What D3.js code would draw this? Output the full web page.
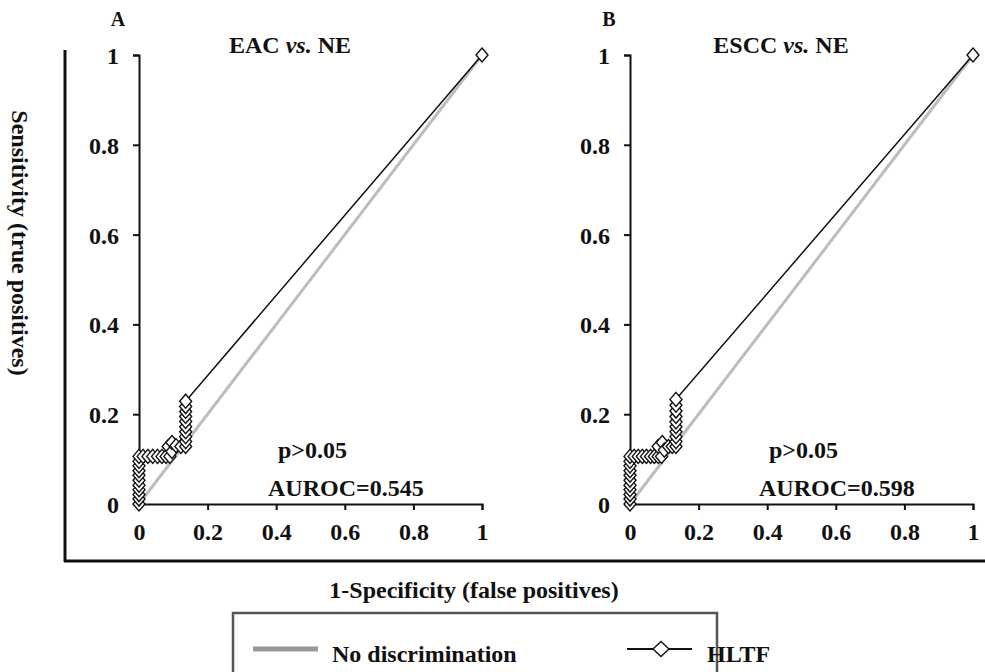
<!DOCTYPE html>
<html>
<head>
<meta charset="utf-8">
<script src="https://cdn.jsdelivr.net/npm/d3@7"></script>
<style>
  body { margin: 0; background: #fff; }
  svg { display: block; }
  text { font-family: "Liberation Serif", "Times New Roman", serif; font-weight: bold; fill: #111; }
</style>
</head>
<body>
<div id="chart"></div>
<script>
// Values
var tickValues = [0, 0.2, 0.4, 0.6, 0.8, 1];

var panelLetters = ["A", "B"];
var panelTitles = [["EAC ", "vs.", " NE"], ["ESCC ", "vs.", " NE"]];
var pValues = ["p>0.05", "p>0.05"];
var aurocLabels = ["AUROC=0.545", "AUROC=0.598"];

// HLTF ROC points, panel A (1-specificity, sensitivity)
var fprA = [0, 0, 0, 0, 0, 0, 0, 0, 0, 0, 0,
  0.012, 0.026, 0.040, 0.054, 0.067, 0.079, 0.090,
  0.085, 0.096, 0.096, 0.108, 0.122, 0.136,
  0.136, 0.136, 0.136, 0.136, 0.136, 0.136, 0.136, 0.136, 0.136,
  1];
var tprA = [0, 0.011, 0.021, 0.032, 0.042, 0.053, 0.064, 0.074, 0.085, 0.095, 0.106,
  0.106, 0.106, 0.106, 0.106, 0.106, 0.106, 0.106,
  0.128, 0.117, 0.137, 0.130, 0.128, 0.128,
  0.139, 0.150, 0.161, 0.172, 0.184, 0.195, 0.206, 0.217, 0.229,
  1];

// HLTF ROC points, panel B
var fprB = [0, 0, 0, 0, 0, 0, 0, 0, 0, 0, 0,
  0.012, 0.024, 0.036, 0.048, 0.060, 0.071, 0.082, 0.092,
  0.082, 0.094, 0.100, 0.112, 0.123, 0.134,
  0.134, 0.134, 0.134, 0.134, 0.134, 0.134, 0.134, 0.134, 0.134,
  1];
var tprB = [0, 0.011, 0.021, 0.032, 0.042, 0.053, 0.064, 0.074, 0.085, 0.095, 0.106,
  0.106, 0.106, 0.106, 0.106, 0.106, 0.106, 0.106, 0.106,
  0.128, 0.137, 0.120, 0.128, 0.128, 0.128,
  0.139, 0.150, 0.161, 0.172, 0.183, 0.195, 0.207, 0.220, 0.233,
  1];

// Diagonal reference line (no discrimination)
var chance = [0, 1];

var legendNames = ["No discrimination", "HLTF"];

var svgWidth = 985;
var svgHeight = 672;
var fontSize = "24px";

var svg = d3.select("#chart")
  .append("svg")
  .attr("width", svgWidth)
  .attr("height", svgHeight);

// outer frame (left and bottom)
svg.append("line")
  .attr("x1", 65).attr("x2", 65).attr("y1", 50).attr("y2", 562)
  .attr("stroke", "#111").attr("stroke-width", 3);
svg.append("line")
  .attr("x1", 64).attr("x2", 985).attr("y1", 561).attr("y2", 561)
  .attr("stroke", "#111").attr("stroke-width", 3);

var panels = [
  { left: 139, fpr: fprA, tpr: tprA },
  { left: 630, fpr: fprB, tpr: tprB }
];
var plotW = 343;
var plotTop = 55;
var plotBottom = 504;

function diamond(g, x, y, w, h) {
  g.append("path")
    .attr("d", `M${x},${y - h / 2}L${x + w / 2},${y}L${x},${y + h / 2}L${x - w / 2},${y}Z`)
    .attr("fill", "#fff")
    .attr("stroke", "#111")
    .attr("stroke-width", 1.4);
}

panels.forEach(function(p, i) {
  var xScale = d3.scaleLinear().domain([0, 1]).range([p.left, p.left + plotW]);
  var yScale = d3.scaleLinear().domain([0, 1]).range([plotBottom, plotTop]);

  var fmt = function(d) { return String(+d.toFixed(1)); };

  var yAxis = svg.append("g")
    .attr("transform", `translate(${p.left},0)`)
    .call(d3.axisLeft(yScale).tickValues(tickValues).tickFormat(fmt).tickSize(6).tickPadding(14));
  var xAxis = svg.append("g")
    .attr("transform", `translate(0,${plotBottom})`)
    .call(d3.axisBottom(xScale).tickValues(tickValues).tickFormat(fmt).tickSize(6).tickPadding(13));

  [yAxis, xAxis].forEach(function(a) {
    a.select(".domain").attr("stroke", "#111").attr("stroke-width", 2);
    a.selectAll(".tick line").attr("stroke", "#111").attr("stroke-width", 2);
    a.selectAll(".tick text")
      .style("font-family", "'Liberation Serif', 'Times New Roman', serif")
      .style("font-weight", "bold")
      .style("font-size", fontSize)
      .attr("fill", "#111");
  });
  yAxis.selectAll(".tick text").attr("dy", "0.35em");

  // no discrimination line
  svg.append("line")
    .attr("x1", xScale(chance[0])).attr("y1", yScale(chance[0]))
    .attr("x2", xScale(chance[1])).attr("y2", yScale(chance[1]))
    .attr("stroke", "#bdbdbd").attr("stroke-width", 3);

  // HLTF curve
  var pts = p.fpr.map(function(f, k) { return [f, p.tpr[k]]; });
  var line = d3.line().x(d => xScale(d[0])).y(d => yScale(d[1]));
  svg.append("path")
    .datum(pts)
    .attr("d", line)
    .attr("fill", "none")
    .attr("stroke", "#111")
    .attr("stroke-width", 1.5);

  var mg = svg.append("g");
  pts.forEach(function(d) {
    diamond(mg, xScale(d[0]), yScale(d[1]), 12, 14);
  });

  // panel letter and title
  svg.append("text")
    .attr("x", p.left - 21).attr("y", 26)
    .attr("text-anchor", "middle")
    .style("font-size", "20px")
    .text(panelLetters[i]);

  var t = svg.append("text")
    .attr("x", p.left + 151).attr("y", 53)
    .attr("text-anchor", "middle")
    .style("font-size", fontSize);
  t.append("tspan").text(panelTitles[i][0]);
  t.append("tspan").style("font-style", "italic").text(panelTitles[i][1]);
  t.append("tspan").text(panelTitles[i][2]);

  svg.append("text")
    .attr("x", p.left + 139).attr("y", 458)
    .style("font-size", fontSize)
    .text(pValues[i]);
  svg.append("text")
    .attr("x", p.left + 129).attr("y", 496)
    .style("font-size", fontSize)
    .text(aurocLabels[i]);
});

// axis titles
svg.append("text")
  .attr("transform", "translate(12,243) rotate(90)")
  .attr("text-anchor", "middle")
  .style("font-size", fontSize)
  .text("Sensitivity (true positives)");

svg.append("text")
  .attr("x", 474).attr("y", 598)
  .attr("text-anchor", "middle")
  .style("font-size", fontSize)
  .text("1-Specificity (false positives)");

// legend
var lg = svg.append("g");
lg.append("rect")
  .attr("x", 233).attr("y", 613).attr("width", 484).attr("height", 80)
  .attr("fill", "none").attr("stroke", "#555").attr("stroke-width", 2.5);

lg.append("line")
  .attr("x1", 253).attr("x2", 318).attr("y1", 649).attr("y2", 649)
  .attr("stroke", "#999").attr("stroke-width", 5);
lg.append("text")
  .attr("x", 332).attr("y", 662)
  .style("font-size", fontSize)
  .text(legendNames[0]);

lg.append("line")
  .attr("x1", 627).attr("x2", 692).attr("y1", 649).attr("y2", 649)
  .attr("stroke", "#111").attr("stroke-width", 2);
diamond(lg, 661, 649, 16, 15);
lg.append("text")
  .attr("x", 707).attr("y", 662)
  .style("font-size", fontSize)
  .text(legendNames[1]);
</script>
</body>
</html>
